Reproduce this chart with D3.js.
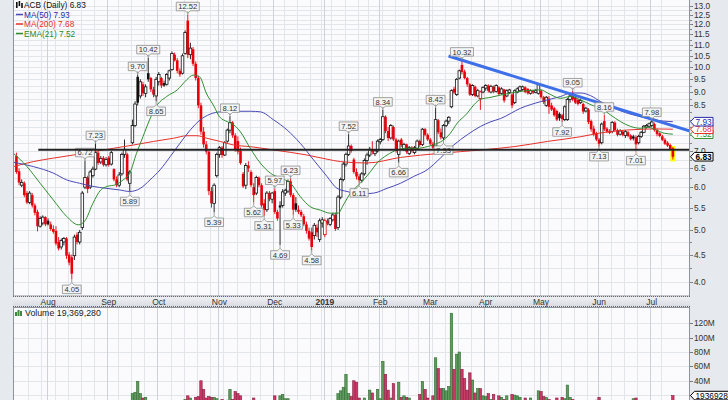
<!DOCTYPE html>
<html><head><meta charset="utf-8">
<script src="https://cdn.jsdelivr.net/npm/d3@7/dist/d3.min.js"></script>
<style>html,body{margin:0;padding:0;background:#e6e9ee;} svg{display:block;font-family:"Liberation Sans",Arial,sans-serif;}</style>
</head><body>
<svg id="chart" width="728" height="400"></svg>
<script>
// ---------------- DATA ----------------
const ticker = "ACB";
const startDate = "2018-07-16";
const holidays = ["2018-09-03","2018-11-22","2018-12-05","2018-12-25","2019-01-01","2019-01-21","2019-02-18","2019-04-19","2019-05-27","2019-07-04"];
const monthNames = ["Jan","Feb","Mar","Apr","May","Jun","Jul","Aug","Sep","Oct","Nov","Dec"];
// daily candles [open, high, low, close]
const ohlc = [
[6.85,6.95,6.35,6.40],[6.42,6.50,6.05,6.12],[6.05,6.20,6.00,6.12],[6.10,6.15,5.75,5.80],[5.85,5.90,5.58,5.62],
[5.62,5.90,5.58,5.85],[5.80,5.85,5.50,5.55],[5.55,5.60,5.32,5.38],[5.40,5.45,4.97,5.08],[5.08,5.30,5.05,5.25],
[5.15,5.32,5.10,5.28],[5.28,5.30,5.08,5.12],[5.20,5.25,5.10,5.12],[5.12,5.18,4.98,5.02],[5.02,5.10,4.92,4.96],
[4.98,5.08,4.68,4.72],[4.75,4.85,4.58,4.62],[4.65,4.82,4.60,4.78],[4.75,4.85,4.68,4.82],[4.82,4.85,4.42,4.48],
[4.50,4.55,4.30,4.35],[4.45,4.50,4.05,4.15],[4.48,4.90,4.40,4.85],[4.90,4.95,4.70,4.75],[4.75,5.00,4.70,4.95],
[5.05,5.90,5.00,5.85],[6.00,6.72,5.95,6.25],[6.25,6.30,5.85,5.95],[6.00,6.45,5.95,6.40],[6.30,6.55,6.25,6.48],
[6.48,7.23,6.45,6.95],[6.95,7.00,6.60,6.65],[6.68,6.85,6.62,6.78],[6.80,6.85,6.55,6.60],[6.60,6.82,6.55,6.75],
[6.80,6.85,6.55,6.60],[6.62,7.00,6.58,6.95],[6.48,6.50,6.15,6.20],[6.20,6.28,6.00,6.05],[6.05,6.40,6.00,6.32],
[6.35,6.95,6.30,6.90],[6.90,7.35,6.80,7.05],[6.90,6.95,6.15,6.20],[6.10,6.45,5.89,6.40],[7.25,8.00,7.20,7.80],
[7.80,8.65,7.75,8.55],[9.60,9.70,8.50,8.60],[8.85,9.50,8.75,9.40],[9.30,9.40,8.85,8.95],[8.95,9.30,8.80,9.20],
[9.75,10.42,9.40,9.50],[9.55,9.60,9.00,9.10],[9.10,9.20,8.80,8.90],[8.85,9.60,8.65,9.50],[9.40,9.80,9.25,9.70],
[9.55,9.60,9.15,9.25],[9.35,9.45,9.20,9.25],[9.30,9.75,9.25,9.70],[9.55,9.90,9.45,9.85],[9.90,10.70,9.85,10.60],
[10.55,10.65,10.25,10.30],[10.30,10.40,9.75,9.85],[9.85,9.95,9.60,9.70],[9.75,10.60,9.70,10.50],[10.60,11.70,10.55,11.60],
[12.20,12.52,10.40,10.55],[10.55,11.10,10.35,10.85],[10.80,10.90,10.05,10.15],[10.15,10.25,9.45,9.55],[9.55,9.65,8.40,8.50],
[8.50,8.60,7.50,7.60],[7.60,7.75,7.10,7.20],[7.20,7.30,6.90,6.98],[6.98,7.02,5.80,5.90],[5.90,6.00,5.50,5.60],
[5.60,6.10,5.39,6.05],[6.30,6.95,6.25,6.90],[6.90,7.15,6.80,7.10],[7.10,7.15,6.80,6.88],[6.88,7.30,6.85,7.25],
[7.30,7.70,7.25,7.65],[7.65,8.12,7.55,7.90],[7.90,7.95,7.40,7.48],[7.48,7.55,6.98,7.05],[7.30,7.45,6.90,6.98],
[7.00,7.10,6.60,6.65],[6.35,6.40,5.98,6.02],[6.05,6.65,5.95,6.58],[6.58,6.70,6.40,6.50],[6.40,6.45,6.00,6.05],
[6.00,6.10,5.62,5.80],[5.85,6.30,5.80,6.25],[6.25,6.28,6.00,6.05],[6.05,6.10,5.50,5.55],[5.60,5.70,5.31,5.45],
[5.45,5.90,5.40,5.85],[5.85,5.90,5.65,5.70],[5.70,5.88,5.60,5.85],[5.90,5.97,5.35,5.40],[5.40,5.45,5.20,5.25],
[5.55,5.65,4.69,5.50],[5.55,5.95,5.50,5.88],[5.85,5.96,5.78,5.92],[5.90,6.20,5.85,6.15],[6.15,6.23,5.75,5.80],
[5.80,5.85,5.33,5.45],[5.60,5.75,5.40,5.45],[5.45,5.55,5.35,5.40],[5.40,5.45,5.28,5.32],[5.30,5.35,5.08,5.12],
[5.12,5.18,4.92,4.98],[4.98,5.05,4.78,4.82],[4.95,5.05,4.58,4.65],[4.88,5.15,4.80,5.10],[5.05,5.12,4.85,4.95],
[4.80,5.25,4.75,5.20],[5.15,5.28,5.05,5.22],[4.90,5.25,4.85,5.20],[5.20,5.25,5.10,5.14],[5.12,5.28,5.08,5.25],
[5.22,5.38,5.18,5.33],[5.33,5.38,4.98,5.02],[5.05,5.80,5.00,5.75],[5.75,6.25,5.70,6.20],[6.20,6.68,6.15,6.62],
[6.62,6.95,6.55,6.90],[6.90,7.52,6.85,7.15],[7.15,7.20,6.95,7.00],[6.75,6.80,6.35,6.40],[6.40,6.50,6.20,6.28],
[6.28,6.35,6.11,6.18],[6.18,6.40,6.12,6.35],[6.35,6.78,6.30,6.72],[6.72,6.95,6.60,6.88],[6.88,7.12,6.82,7.05],
[7.05,7.30,6.90,6.98],[6.92,7.05,6.85,7.00],[7.00,7.35,6.95,7.30],[7.28,7.40,7.20,7.35],[7.35,8.34,7.30,8.10],
[8.10,8.15,7.55,7.62],[7.62,7.75,7.30,7.40],[7.40,7.85,7.35,7.80],[7.75,7.80,7.30,7.35],[7.35,7.40,6.95,7.00],
[6.90,7.35,6.66,7.30],[7.35,7.40,7.12,7.18],[7.05,7.25,7.00,7.20],[7.20,7.22,6.92,6.98],[6.92,7.15,6.88,7.10],
[7.10,7.15,6.95,7.00],[6.95,7.15,6.90,7.10],[7.08,7.35,7.02,7.30],[7.30,7.35,7.12,7.18],[7.20,7.72,7.15,7.68],
[7.68,7.72,7.45,7.50],[7.50,7.55,7.30,7.35],[7.35,7.40,7.18,7.22],[7.22,7.28,7.05,7.10],[7.15,8.42,7.10,8.00],
[7.98,8.02,7.52,7.58],[7.58,7.70,7.35,7.42],[7.40,7.85,7.33,7.80],[7.80,8.00,7.75,7.95],[7.95,8.12,7.85,8.08],
[8.45,9.10,8.40,9.05],[9.12,9.20,8.92,8.98],[8.90,9.55,8.85,9.50],[9.55,9.90,9.50,9.85],[10.10,10.32,9.70,9.80],
[9.82,9.90,9.50,9.55],[9.55,9.60,9.20,9.30],[9.30,9.35,8.85,8.90],[8.90,9.30,8.85,9.25],[9.20,9.25,8.80,8.85],
[8.85,9.12,8.80,9.05],[8.75,9.05,8.34,9.00],[9.00,9.22,8.95,9.18],[9.15,9.30,9.05,9.25],[9.25,9.30,8.98,9.05],
[9.00,9.28,8.95,9.22],[9.20,9.25,8.95,9.02],[9.02,9.30,8.98,9.25],[9.18,9.22,8.88,8.92],[8.95,9.18,8.90,9.12],
[9.10,9.12,8.60,8.68],[8.85,9.10,8.80,9.05],[8.98,9.12,8.92,9.08],[8.90,8.95,8.40,8.50],[8.60,9.10,8.55,9.05],
[9.00,9.18,8.95,9.12],[9.05,9.25,9.00,9.20],[9.10,9.25,9.05,9.20],[9.18,9.22,8.95,9.00],[9.12,9.15,8.90,8.95],
[8.95,9.10,8.90,9.05],[9.05,9.08,8.92,8.98],[8.98,9.12,8.95,9.05],[8.95,9.35,8.90,9.28],[9.05,9.10,8.75,8.80],
[8.80,8.85,8.55,8.62],[8.50,8.85,8.45,8.80],[8.75,8.85,8.20,8.45],[8.50,8.60,8.30,8.35],[8.40,8.45,8.10,8.15],
[8.30,8.35,7.95,8.00],[8.20,8.25,7.96,8.05],[8.15,8.20,7.92,8.02],[8.00,8.50,7.95,8.45],[8.00,8.78,7.96,8.72],
[8.72,8.95,8.60,8.85],[8.95,9.05,8.65,8.72],[8.80,8.85,8.55,8.60],[8.70,8.75,8.50,8.55],[8.60,8.75,8.55,8.68],
[8.55,8.60,8.20,8.28],[8.30,8.45,8.25,8.40],[8.35,8.40,7.85,7.92],[7.95,8.00,7.60,7.68],[7.70,7.80,7.45,7.52],
[7.55,7.60,7.30,7.35],[7.35,7.40,7.13,7.22],[7.25,7.90,7.20,7.85],[7.95,8.16,7.62,7.68],[7.70,7.75,7.55,7.60],
[7.62,7.68,7.52,7.56],[7.60,7.95,7.55,7.90],[7.90,7.95,7.60,7.65],[7.65,7.70,7.45,7.50],[7.52,7.68,7.48,7.62],
[7.60,7.65,7.45,7.50],[7.48,7.65,7.40,7.60],[7.58,7.62,7.42,7.46],[7.48,7.52,7.32,7.36],[7.45,7.50,7.32,7.38],
[7.42,7.48,7.01,7.20],[7.25,7.50,7.20,7.45],[7.45,7.62,7.40,7.58],[7.58,7.82,7.55,7.78],[7.75,7.85,7.70,7.80],
[7.78,7.90,7.72,7.86],[7.80,7.98,7.75,7.92],[7.85,7.90,7.60,7.65],[7.65,7.70,7.45,7.52],[7.55,7.58,7.42,7.46],
[7.45,7.50,7.30,7.34],[7.34,7.40,7.18,7.22],[7.25,7.30,7.12,7.16],[7.18,7.22,7.02,7.06],[7.08,7.12,6.75,6.83]
];
// daily volume, millions of shares
const volumes = [
6,7,5,6,7,5,6,8,9,6, 5,6,5,6,6,8,7,5,5,8, 9,11,10,7,6,12,10,8,7,8, 11,9,6,7,6,7,6,8,7,6, 9,10,9,11,
22,24,39,22,16,17,12,10,9,11, 9,8,7,9,8,12,9,10,8,12,
14,19,16,12,17,18,40,28,16,18, 17,17,15,12,14,12,13,28,14,25, 22,19,12,11,9,10,16,9,8,10, 12,9,8,11,19,10,
19,21,15,15,10,12,9,8,7,8, 9,10,12,9,7,8,6,9,7,8, 9,12,22,26,31,49,22,18,40,38, 16,12,16,12,27,23,11,28,15,67, 49,27,16,36,12,38,17,19,17,16,
11,9,12,21,39,28,16,12,19,72, 57,29,29,26,32,134,56,77,80,56, 43,27,51,41,23,29,29,19,18,22, 14,21,12,19,17,14,19,12,21,20, 19,17,12,16,11,16,10,12,26,25,
18,17,14,11,10,16,11,17,15,34, 17,14,11,10,9,11,8,12,11,12, 13,17,12,11,8,7,9,8,7,6, 7,8,7,8,15,16,9,8,10,7, 8,11,9,8,7,9,10,11,12,19.36928
];
const lastVolume = 19369280;
// moving averages: [trading-day index, value]
const ema21 = [[-1,6.92],[4,6.55],[9,6.10],[14,5.68],[19,5.30],[23.5,5.11],[26,5.20],[29,5.60],[32,5.93],[34.5,6.02],[37.5,6.06],[40.5,6.19],[43,6.37],[45.5,6.92],[48,7.44],[50.5,7.99],[53,8.46],[57,8.83],[61,9.08],[64.5,9.47],[67,9.67],[69.5,9.60],[72,8.96],[75,8.46],[77,8.10],[80,7.93],[82.5,7.82],[85,7.59],[88.7,7.08],[92.5,6.65],[96.3,6.37],[100,6.24],[104,6.10],[107.7,5.76],[111.5,5.52],[115.3,5.44],[119,5.37],[122,5.37],[124,5.56],[126.7,5.85],[129.2,6.02],[131.7,6.19],[134.3,6.41],[136.8,6.65],[140.6,6.88],[144.4,7.03],[148.2,7.08],[152,7.08],[155.8,7.13],[159.6,7.23],[162.1,7.34],[164.6,7.55],[167.2,7.88],[171,8.22],[173.5,8.52],[176,8.72],[180,8.80],[184,8.89],[191,9.02],[199,9.08],[201.5,8.96],[206.5,8.76],[210,8.83],[214,8.70],[218,8.52],[221.6,8.40],[225.4,8.16],[229.2,7.93],[233,7.77],[236.8,7.71],[239.4,7.75],[242,7.68],[245.7,7.55],[249,7.52]];
const ma50 = [[-1,6.67],[6.4,6.55],[14,6.37],[19,6.19],[24,6.10],[29,6.02],[34,5.97],[39,5.93],[43,5.89],[47,5.97],[50.7,6.19],[54.5,6.46],[58.3,6.83],[62,7.23],[66,7.66],[69.7,7.99],[73.5,8.19],[77.3,8.27],[82.4,8.29],[88.7,8.29],[92.5,8.27],[97.6,7.99],[102.6,7.66],[107.7,7.23],[112.7,6.74],[117.8,6.28],[121.6,5.97],[125.4,5.89],[130.5,5.83],[135.5,5.85],[140.6,5.97],[145.7,6.10],[150.7,6.28],[155.8,6.46],[160.8,6.79],[165.9,7.18],[171,7.50],[176,7.77],[180,7.93],[183.7,8.04],[191.3,8.40],[198.9,8.64],[206.5,8.83],[210.2,8.96],[214.1,8.96],[217.8,8.86],[221.6,8.64],[226.7,8.40],[231.8,8.22],[236.8,8.10],[241.9,7.99],[249,7.93]];
const ma200 = [[-1,6.55],[6.4,6.69],[14,6.79],[21.6,6.88],[29.2,6.98],[36.8,7.08],[44.4,7.18],[52,7.29],[59.6,7.39],[64.7,7.47],[68.5,7.47],[72.2,7.39],[77.3,7.29],[82.4,7.18],[88.7,7.13],[97.6,7.03],[110.2,6.88],[117.8,6.76],[122.9,6.69],[133,6.65],[145.7,6.81],[160.8,6.93],[176.1,7.03],[188.7,7.13],[201.4,7.29],[214.1,7.44],[221,7.55],[228,7.63],[235,7.67],[242,7.69],[249,7.68]];
const highLabels = [26,30,46,50,65,81,98,104,126,139,159,169,211,223,241];
const lowLabels = [21,43,53,75,90,94,100,105,112,130,145,162,207,221,235];
const priceTicks = [4.0,4.5,5.0,5.5,6.0,6.5,7.0,7.5,8.0,8.5,9.0,9.5,10.0,10.5,11.0,11.5,12.0,12.5,13.0];
const volumeTicks = [20,40,60,80,100,120];
const supportLine = [[8.3,7.04],[255.5,7.04]];
const trendLine = [[163.9,10.49],[255.5,7.62]];

// ---------------- LAYOUT ----------------
const W=728,H=400;
const PL=13, PR=690, PT=0, PB=296;
const VT=307, VB=400;
const RED="#e8000b", BLK="#111";
const C_MA50="#4a4ab8", C_MA200="#e8302a", C_EMA="#2f8f2f";

// trading days
const dates=[]; {let d=new Date(startDate+"T00:00:00Z");
 while(dates.length<ohlc.length){const dow=d.getUTCDay(); const iso=d.toISOString().slice(0,10);
  if(dow>0&&dow<6&&!holidays.includes(iso)) dates.push(new Date(d)); d.setUTCDate(d.getUTCDate()+1);}}
const monthStarts=[], weekStarts=[];
dates.forEach((d,i)=>{ if(i===0) return; const p=dates[i-1];
  if(d.getUTCMonth()!==p.getUTCMonth()) monthStarts.push(i);
  else if(d.getUTCDay()<p.getUTCDay()) weekStarts.push(i); });

const x=d3.scaleLinear().domain([-1.3,255.5]).range([PL,PR]);
const y=d3.scaleLog().domain([4,13]).range([282.3,5.7]);
const yv=d3.scaleLinear().domain([0,120]).range([409.5,323.3]);

const svg=d3.select("#chart");
const defs=svg.append("defs");
defs.append("clipPath").attr("id","cp").append("rect").attr("x",PL).attr("y",PT).attr("width",PR-PL).attr("height",PB-PT);
defs.append("clipPath").attr("id","cv").append("rect").attr("x",PL).attr("y",VT).attr("width",PR-PL).attr("height",VB-VT);
const grad=defs.append("linearGradient").attr("id","strip").attr("x1",0).attr("x2",0).attr("y1",0).attr("y2",1);
grad.append("stop").attr("offset","0").attr("stop-color","#eef0f3");
grad.append("stop").attr("offset","1").attr("stop-color","#d9dce2");

svg.append("rect").attr("width",W).attr("height",H).attr("fill","#e6e9ee");
svg.append("rect").attr("x",PL).attr("y",PT).attr("width",PR-PL).attr("height",PB-PT).attr("fill","#fbfbfd");
svg.append("rect").attr("x",PL).attr("y",VT).attr("width",PR-PL).attr("height",VB-VT).attr("fill","#fbfbfd");

// grids
const gp=svg.append("g").attr("clip-path","url(#cp)");
const gv=svg.append("g").attr("clip-path","url(#cv)");
const minorPrices=[]; priceTicks.forEach((t,k)=>{minorPrices.push(t); if(k<priceTicks.length-1) minorPrices.push(t+0.25);});
minorPrices.forEach(t=>{const yy=Math.round(y(t))+0.5;
  gp.append("line").attr("x1",PL).attr("x2",PR).attr("y1",yy).attr("y2",yy).attr("stroke","#e2e5ea").attr("stroke-width",1);});
volumeTicks.forEach(t=>{const yy=Math.round(yv(t))+0.5;
  gv.append("line").attr("x1",PL).attr("x2",PR).attr("y1",yy).attr("y2",yy).attr("stroke","#e2e5ea");});
weekStarts.forEach(i=>{const xx=Math.round(x(i)-1.3)+0.5;
  [gp,gv].forEach(g=>g.append("line").attr("x1",xx).attr("x2",xx).attr("y1",0).attr("y2",H).attr("stroke","#e2e5ea"));});
monthStarts.forEach(i=>{const xx=Math.round(x(i)-1.3)+0.5;
  [gp,gv].forEach(g=>g.append("line").attr("x1",xx).attr("x2",xx).attr("y1",0).attr("y2",H).attr("stroke","#cdd1d8"));});

// candles
const last=ohlc.length-1;
gp.append("rect").attr("x",x(last)-2.5).attr("y",y(ohlc[last][1])-1).attr("width",5)
  .attr("height",y(ohlc[last][2])-y(ohlc[last][1])+3).attr("fill","#ffff00");
const gc=gp.append("g");
ohlc.forEach((d,i)=>{
  const [o,h,l,c]=d; const prev=i>0?ohlc[i-1][3]:o;
  const col=c<prev?RED:BLK; const cx=x(i);
  gc.append("line").attr("x1",cx).attr("x2",cx).attr("y1",y(h)).attr("y2",y(l)).attr("stroke",col).attr("stroke-width",0.9);
  const top=y(Math.max(o,c)), bot=y(Math.min(o,c));
  const hollow=c>o;
  gc.append("rect").attr("x",cx-1.3).attr("y",top).attr("width",2.6).attr("height",Math.max(1,bot-top))
    .attr("fill",hollow?"#fff":col).attr("stroke",hollow?col:"none").attr("stroke-width",0.8);
});

// moving averages
const line=d3.line().x(d=>x(d[0])).y(d=>y(d[1])).curve(d3.curveMonotoneX);
gp.append("path").attr("d",line(ma200)).attr("fill","none").attr("stroke",C_MA200).attr("stroke-width",1);
gp.append("path").attr("d",line(ma50)).attr("fill","none").attr("stroke",C_MA50).attr("stroke-width",1);
gp.append("path").attr("d",line(ema21)).attr("fill","none").attr("stroke",C_EMA).attr("stroke-width",1);

// drawn lines
const sl=d3.line().x(d=>x(d[0])).y(d=>y(d[1]));
svg.append("path").attr("d",sl(supportLine)).attr("stroke","#222").attr("stroke-width",2).attr("fill","none");
gp.append("path").attr("d",sl(trendLine)).attr("stroke","#3d6fe8").attr("stroke-width",3).attr("fill","none");

// value labels
function bubble(i,dir){
  const v=dir<0?ohlc[i][1]:ohlc[i][2]; const px=x(i), py=y(v);
  const g=gp.append("g");
  const p=g.append("path");
  g.append("line").attr("x1",px).attr("x2",px).attr("y1",py).attr("y2",dir<0?py-3:py+3).attr("stroke","#888").attr("stroke-width",0.8);
  const t=g.append("text").text(v.toFixed(2)).attr("font-size",7.6).attr("fill","#333").attr("text-anchor","middle");
  const tw=t.node().getComputedTextLength();
  const w=tw+4, h=8.5, cy=dir<0?py-8:py+10;
  const x0=px-w/2, x1=px+w/2, y0=cy-h/2, y1=cy+h/2;
  t.attr("x",px).attr("y",cy+2.8);
  const d=dir<0?`M${x0},${y0}H${x1}V${y1}H${px+2.5}L${px},${y1+2.5}L${px-2.5},${y1}H${x0}Z`
              :`M${x0},${y0}H${px-2.5}L${px},${y0-2.5}L${px+2.5},${y0}H${x1}V${y1}H${x0}Z`;
  p.attr("d",d).attr("fill","#f4f4f4").attr("stroke","#8d8d8d").attr("stroke-width",0.8);
}
highLabels.forEach(i=>bubble(i,-1));
lowLabels.forEach(i=>bubble(i,1));

// volume bars
volumes.forEach((v,i)=>{
  const prev=i>0?ohlc[i-1][3]:ohlc[i][0]; const up=ohlc[i][3]>=prev;
  gv.append("rect").attr("x",x(i)-1.2).attr("y",yv(v)).attr("width",2.4).attr("height",yv(0)-yv(v))
    .attr("fill",up?"#5f9a5f":"#cc3a68").attr("stroke",up?"#2f6b2f":"#8c1c42").attr("stroke-width",0.6);
});

// frames
svg.append("rect").attr("x",PL+0.5).attr("y",-1).attr("width",PR-PL-1).attr("height",PB+1).attr("fill","none").attr("stroke","#8f939b");
svg.append("rect").attr("x",PL+0.5).attr("y",VT+0.5).attr("width",PR-PL-1).attr("height",VB-VT+5).attr("fill","none").attr("stroke","#8f939b");
// date strip
svg.append("rect").attr("x",PL).attr("y",PB+0.5).attr("width",PR-PL).attr("height",VT-PB-1).attr("fill","url(#strip)");
[PB+0.5,VT-0.5].forEach(yy=>svg.append("line").attr("x1",PL).attr("x2",PR).attr("y1",yy).attr("y2",yy)
  .attr("stroke","#666").attr("stroke-dasharray","1,1"));
monthStarts.forEach(i=>{const m=dates[i].getUTCMonth();
  svg.append("text").attr("x",x(i)).attr("y",304.5).attr("text-anchor","middle").attr("font-size",8.5)
   .attr("font-weight",m===0?"bold":"normal").attr("fill","#333")
   .text(m===0?String(dates[i].getUTCFullYear()):monthNames[m]);});

// price axis
const tagVals=[ma50[ma50.length-1][1],ma200[ma200.length-1][1],ema21[ema21.length-1][1],ohlc[last][3]];
priceTicks.forEach(t=>{const yy=y(t);
  svg.append("line").attr("x1",PR).attr("x2",PR+3).attr("y1",Math.round(yy)+0.5).attr("y2",Math.round(yy)+0.5).attr("stroke","#777");
  if(tagVals.some(v=>Math.abs(y(v)-yy)<5.5)) return;
  svg.append("text").attr("x",694).attr("y",yy+3).attr("font-size",8.3).attr("fill","#333").text(t.toFixed(1));});
minorPrices.forEach(t=>{const yy=Math.round(y(t))+0.5;
  svg.append("line").attr("x1",PR).attr("x2",PR+2).attr("y1",yy).attr("y2",yy).attr("stroke","#888");});
// volume axis
volumeTicks.forEach(t=>{const yy=yv(t);
  svg.append("line").attr("x1",PR).attr("x2",PR+3).attr("y1",Math.round(yy)+0.5).attr("y2",Math.round(yy)+0.5).attr("stroke","#777");
  if(Math.abs(yv(lastVolume/1e6)-yy)<7) return;
  svg.append("text").attr("x",694).attr("y",yy+3).attr("font-size",8.3).attr("fill","#333").text(t+"M");});

// right tags
function tag(yy,text,color,bold){
  const g=svg.append("g");
  g.append("path").attr("d",`M${PR+0.5},${yy}L${PR+4.5},${yy-4.3}H713V${yy+4.3}H${PR+4.5}Z`)
   .attr("fill","#fff").attr("stroke",color).attr("stroke-width",1);
  g.append("text").attr("x",695.5).attr("y",yy+3).attr("font-size",8.3).attr("fill",color)
   .attr("font-weight",bold?"bold":"normal").text(text);
}
tag(y(tagVals[2]),tagVals[2].toFixed(2),C_EMA);
tag(y(tagVals[1]),tagVals[1].toFixed(2),C_MA200);
tag(y(tagVals[0]),tagVals[0].toFixed(2),"#2a2aa8");
tag(y(tagVals[3]),tagVals[3].toFixed(2),"#000",true);
{const yy=yv(lastVolume/1e6); const g=svg.append("g");
 g.append("path").attr("d",`M${PR+0.5},${yy}L${PR+4.5},${yy-4.3}H740V${yy+4.3}H${PR+4.5}Z`).attr("fill","#fff").attr("stroke","#000");
 g.append("text").attr("x",695.5).attr("y",yy+3).attr("font-size",8.3).attr("fill","#000").text(String(lastVolume));}

// legends
const lg=svg.append("g");
lg.append("rect").attr("x",16).attr("y",2).attr("width",1.6).attr("height",6).attr("fill","#111");
lg.append("rect").attr("x",18.6).attr("y",1).attr("width",1.6).attr("height",5).attr("fill","#111");
lg.append("rect").attr("x",21.2).attr("y",3).attr("width",1.6).attr("height",5).attr("fill","#111");
lg.append("text").attr("x",24).attr("y",8).attr("font-size",8.3).attr("fill","#111").text(`${ticker} (Daily) ${ohlc[last][3].toFixed(2)}`);
[["MA(50)",tagVals[0],"#2a2aa8",C_MA50],["MA(200)",tagVals[1],"#e8302a",C_MA200],["EMA(21)",tagVals[2],"#2a8a2a",C_EMA]].forEach((r,k)=>{
  const yy=14.5+k*9.5;
  lg.append("line").attr("x1",16).attr("x2",23).attr("y1",yy).attr("y2",yy).attr("stroke",r[3]).attr("stroke-width",1.5);
  lg.append("text").attr("x",24).attr("y",yy+3).attr("font-size",8.3).attr("fill",r[2]).text(`${r[0]} ${r[1].toFixed(2)}`);});
const vg=svg.append("g");
[[15,312,4],[17.5,310,6],[20,311,5]].forEach(b=>vg.append("rect").attr("x",b[0]).attr("y",b[1]).attr("width",2).attr("height",b[2]).attr("fill","#3d8a3d"));
vg.append("text").attr("x",25).attr("y",316).attr("font-size",8.8).attr("fill","#222").text(`Volume ${d3.format(",")(lastVolume)}`);
</script>
</body></html>
